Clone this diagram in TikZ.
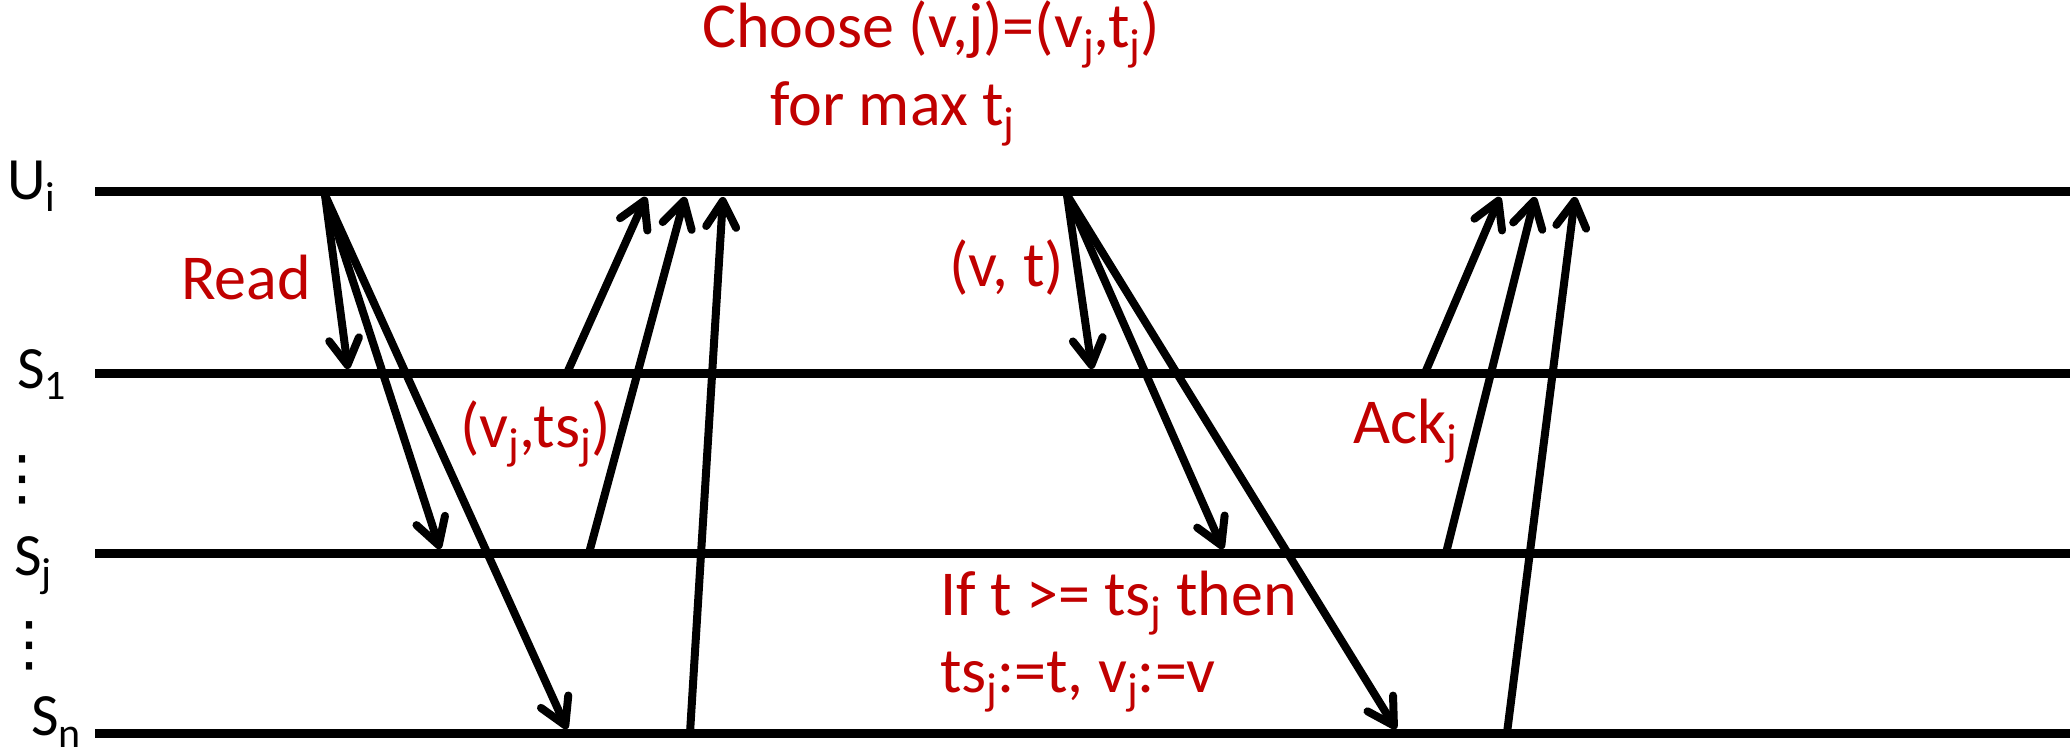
\documentclass[tikz,border=0pt]{standalone}
\usepackage{fontspec}
\usepackage{graphicx}
\setmainfont{Carlito}
\newfontfamily\dejavu{DejaVu Sans}
\usetikzlibrary{arrows.meta}
\definecolor{darkred}{HTML}{C00000}
\newcommand\sbs[1]{\raisebox{-0.2em}{\scalebox{0.7}{#1}}}
\begin{document}
\begin{tikzpicture}[x=1pt,y=-1pt,
  timeline/.style={line width=9pt},
  msg/.style={line width=8pt,-{Straight Barb[length=26pt,width=30pt,round]}},
  redtxt/.style={inner sep=0pt,anchor=base west,text=darkred,font=\fontsize{64}{76}\selectfont},
  lab/.style={inner sep=0pt,anchor=base west,font=\fontsize{60}{72}\selectfont},
  dots/.style={inner sep=0pt,font=\dejavu\fontsize{60}{72}\selectfont}]
\useasboundingbox (0,0) rectangle (2072,751);
% timelines
\coordinate (uL) at (95,192);  \coordinate (uR) at (2070,192);
\coordinate (aL) at (95,373);  \coordinate (aR) at (2070,373);
\coordinate (jL) at (95,553);  \coordinate (jR) at (2070,553);
\coordinate (nL) at (95,733);  \coordinate (nR) at (2070,733);
\draw[timeline] (uL) -- (uR);
\draw[timeline] (aL) -- (aR);
\draw[timeline] (jL) -- (jR);
\draw[timeline] (nL) -- (nR);
% labels
\node[lab] (lu) at (7,200) {U\sbs{i}};
\node[lab] (l1) at (17,388) {S\sbs{1}};
\node[dots] (d1) at (22,480) {⋮};
\node[lab] (lj) at (14,575) {S\sbs{j}};
\node[dots] (d2) at (29,646) {⋮};
\node[lab] (ln) at (31,735) {S\sbs{n}};
% read phase
\coordinate (rs) at (325,195);
\coordinate (r1) at (348,369);
\coordinate (rj) at (440,549);
\coordinate (rn) at (567,729);
\draw[msg] (rs) -- (r1);
\draw[msg] (rs) -- (rj);
\draw[msg] (rs) -- (rn);
% replies
\coordinate (p1) at (567,373); \coordinate (q1) at (646,197);
\coordinate (pj) at (589,553); \coordinate (qj) at (685,197);
\coordinate (pn) at (690,733); \coordinate (qn) at (723,197);
\draw[msg] (p1) -- (q1);
\draw[msg] (pj) -- (qj);
\draw[msg] (pn) -- (qn);
% write phase
\coordinate (ws) at (1067,195);
\coordinate (w1) at (1092,369);
\coordinate (wj) at (1223,549);
\coordinate (wn) at (1396,729);
\draw[msg] (ws) -- (w1);
\draw[msg] (ws) -- (wj);
\draw[msg] (ws) -- (wn);
% acks
\coordinate (a1) at (1425,373); \coordinate (b1) at (1500,197);
\coordinate (aj) at (1446,553); \coordinate (bj) at (1535,197);
\coordinate (an) at (1507,733); \coordinate (bn) at (1575,197);
\draw[msg] (a1) -- (b1);
\draw[msg] (aj) -- (bj);
\draw[msg] (an) -- (bn);
% red texts
\node[redtxt] (tread) at (181,300) {Read};
\node[redtxt] (tvts) at (460,447) {(v\sbs{j},ts\sbs{j})};
\node[redtxt] (tch) at (702,48) {Choose (v,j)=(v\sbs{j},t\sbs{j})};
\node[redtxt] (tfor) at (770,126) {for max t\sbs{j}};
\node[redtxt] (tvt) at (949,287) {(v, t)};
\node[redtxt] (tack) at (1353,443) {Ack\sbs{j}};
\node[redtxt] (tif) at (940,615) {If t >= ts\sbs{j} then};
\node[redtxt] (tts) at (940,692) {ts\sbs{j}:=t, v\sbs{j}:=v};
\end{tikzpicture}
\end{document}
